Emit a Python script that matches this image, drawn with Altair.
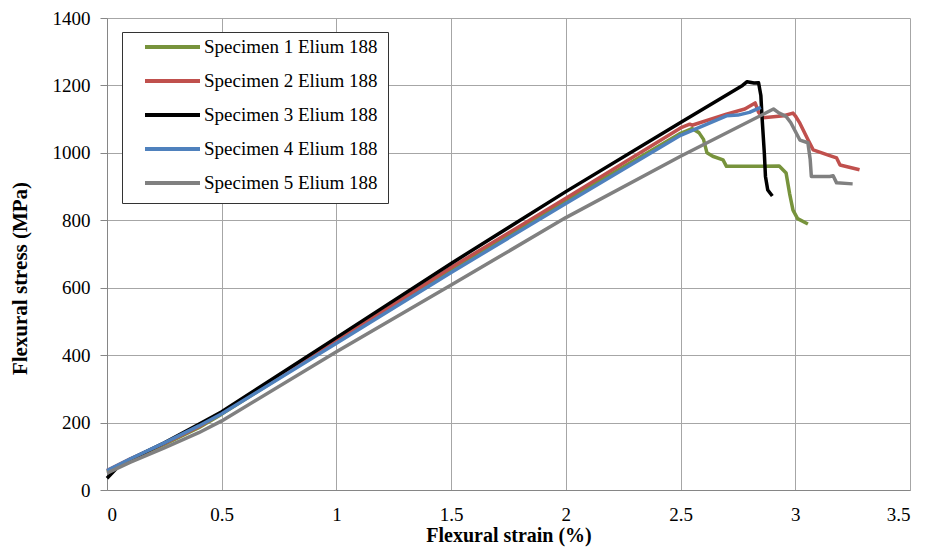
import altair as alt
import pandas as pd

names = ["Specimen 1 Elium 188", "Specimen 2 Elium 188", "Specimen 3 Elium 188",
         "Specimen 4 Elium 188", "Specimen 5 Elium 188"]
colors = ["#77933C", "#C0504D", "#000000", "#4F81BD", "#808080"]

s1_x = [0, 0.1, 0.25, 0.4, 0.5, 1.0, 1.5, 2.0, 2.5, 2.55, 2.58, 2.60, 2.615, 2.64, 2.685, 2.70, 2.80, 2.93, 2.96, 2.975, 2.99, 3.01, 3.055]
s1_y = [55, 90, 135, 185, 225, 440, 655, 858, 1058, 1072, 1060, 1040, 1000, 990, 979, 960, 960, 961, 940, 880, 830, 805, 789]

s2_x = [0, 0.1, 0.25, 0.4, 0.5, 1.0, 1.5, 2.0, 2.5, 2.54, 2.55, 2.7, 2.78, 2.825, 2.84, 2.86, 2.95, 2.99, 3.0, 3.02, 3.056, 3.078, 3.15, 3.18, 3.195, 3.28]
s2_y = [58, 92, 138, 188, 228, 442, 660, 865, 1074, 1085, 1082, 1115, 1130, 1148, 1120, 1104, 1110, 1118, 1110, 1088, 1038, 1009, 992, 985, 964, 950]

s3_x = [0, 0.05, 0.1, 0.25, 0.4, 0.5, 1.0, 1.5, 2.0, 2.5, 2.77, 2.79, 2.82, 2.84, 2.85, 2.855, 2.865, 2.87, 2.88, 2.90]
s3_y = [35, 70, 90, 140, 195, 232, 452, 672, 885, 1090, 1200, 1211, 1207, 1208, 1170, 1107, 1000, 930, 890, 872]

s4_x = [0, 0.1, 0.25, 0.4, 0.5, 1.0, 1.5, 2.0, 2.5, 2.7, 2.75, 2.8, 2.85]
s4_y = [58, 92, 140, 190, 226, 435, 645, 850, 1052, 1110, 1112, 1120, 1135]

s5_x = [0, 0.1, 0.25, 0.4, 0.5, 1.0, 1.5, 2.0, 2.5, 2.905, 2.93, 2.96, 2.98, 3.02, 3.055, 3.065, 3.07, 3.15, 3.165, 3.18, 3.25]
s5_y = [50, 82, 125, 170, 205, 410, 608, 808, 990, 1130, 1118, 1108, 1090, 1038, 1030, 980, 930, 930, 932, 911, 908]

series = [(s1_x, s1_y), (s2_x, s2_y), (s3_x, s3_y), (s4_x, s4_y), (s5_x, s5_y)]
rows = []
for n, (xs, ys) in zip(names, series):
    for i, (a, b) in enumerate(zip(xs, ys)):
        rows.append({"specimen": n, "strain": a, "stress": b, "idx": i})
df = pd.DataFrame(rows)

FONT = "'Times New Roman', 'Liberation Serif', serif"

chart = alt.Chart(df).mark_line(strokeWidth=3.5, strokeJoin="round").encode(
    x=alt.X("strain:Q", scale=alt.Scale(domain=[0, 3.5], nice=False),
            axis=alt.Axis(values=[0, 0.5, 1, 1.5, 2, 2.5, 3, 3.5], title="Flexural strain (%)",
                          format="~g", labelPadding=15, ticks=False, titlePadding=1,
                          titleFontSize=20)),
    y=alt.Y("stress:Q", scale=alt.Scale(domain=[0, 1400], nice=False),
            axis=alt.Axis(values=list(range(0, 1401, 200)), title="Flexural stress (MPa)",
                          format="d", tickSize=7, labelPadding=10, titlePadding=22, titleY=260,
                          titleFontSize=21)),
    color=alt.Color("specimen:N", scale=alt.Scale(domain=names, range=colors),
                    legend=alt.Legend(title=None, orient="none", legendX=15, legendY=14,
                                      symbolType="stroke", symbolSize=3025, symbolStrokeWidth=4,
                                      symbolOffset=11, labelLimit=400,
                                      labelFont=FONT, labelFontSize=19, labelColor="#000000",
                                      strokeColor="#333333", padding=10, rowPadding=15,
                                      clipHeight=10, labelOffset=2, fillColor="white")),
    order=alt.Order("idx:Q"),
).properties(
    width=803, height=472,
    autosize=alt.AutoSizeParams(type="none"),
    padding={"left": 107, "top": 18, "right": 18, "bottom": 60},
).configure_axis(
    labelFont=FONT, labelFontSize=19, labelColor="#000000",
    titleFont=FONT, titleFontWeight="bold", titleColor="#000000",
    gridColor="#A6A6A6", gridWidth=1, domainColor="#868686", tickColor="#868686",
).configure_view(stroke=None)

chart.save("out.html", embed_options={"renderer": "svg", "actions": False})
